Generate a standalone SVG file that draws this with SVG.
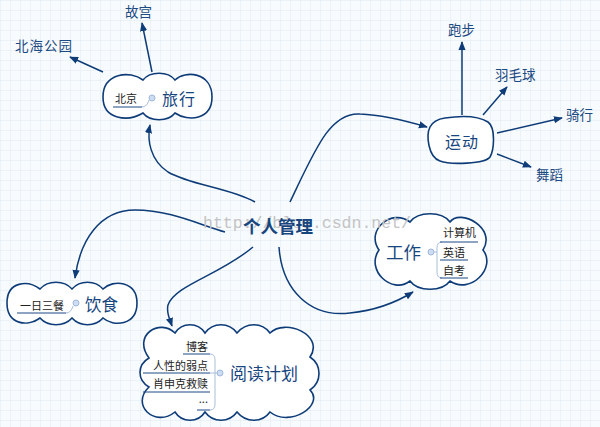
<svg xmlns="http://www.w3.org/2000/svg" width="600" height="427" viewBox="0 0 600 427">
<defs>
<pattern id="grid" width="10" height="10" patternUnits="userSpaceOnUse">
<rect width="10" height="10" fill="#f8fbfd"/>
<path d="M10,0 L0,0 L0,10" fill="none" stroke="#dfeaf3" stroke-width="1"/>
</pattern>
<marker id="arr" viewBox="0 0 10 10" refX="9" refY="5" markerWidth="9" markerHeight="9" markerUnits="userSpaceOnUse" orient="auto">
<path d="M0,1 L10,5 L0,9 z" fill="#0e3c78"/>
</marker>
<style>
.conn{fill:none;stroke:#0e3c78;stroke-width:1.5}
.shape{fill:#ffffff;stroke:#0e3c78;stroke-width:1.6}
.main{font-family:"Noto Sans CJK SC","Noto Sans",sans-serif;fill:#17467f}
.lbl{font-family:"Noto Sans CJK SC","Noto Sans",sans-serif;fill:#1c4a82;font-size:13.5px}
.sub{font-family:"Noto Sans CJK SC","Noto Sans",sans-serif;fill:#222;font-size:11px}
.ul{fill:none;stroke:#1a4a84;stroke-width:1}
.br{fill:none;stroke:#a9bfd9;stroke-width:1}
.dot{fill:#cddcf0;stroke:#9db8dc;stroke-width:1}
.wm{font-family:"Liberation Mono",monospace;font-size:16.5px;fill:#c4c4c4}
</style>
</defs>
<rect width="600" height="427" fill="url(#grid)"/>

<g id="connectors">
<path class="conn" d="M255,202 C230,188 190,185 168,172 C150,160 147,140 150,125" marker-end="url(#arr)"/>
<path class="conn" d="M290,202 C315,150 330,112 360,114 C385,115 410,122 427,127" marker-end="url(#arr)"/>
<path class="conn" d="M279,247 C282,290 310,318 350,313 C380,310 400,300 413,292" marker-end="url(#arr)"/>
<path class="conn" d="M253,247 C220,275 175,285 168,305 C166,313 170,320 172,326" marker-end="url(#arr)"/>
<path class="conn" d="M225,232 C200,225 170,210 135,210 C100,210 80,240 75,278" marker-end="url(#arr)"/>
<path class="conn" d="M152,72 L142,23" marker-end="url(#arr)"/>
<path class="conn" d="M103,72 L70,57" marker-end="url(#arr)"/>
<path class="conn" d="M462,115 L462,42" marker-end="url(#arr)"/>
<path class="conn" d="M483,115 L507,87" marker-end="url(#arr)"/>
<path class="conn" d="M497,133 L562,118" marker-end="url(#arr)"/>
<path class="conn" d="M497,154 L531,167" marker-end="url(#arr)"/>
</g>

<g id="node-lvxing">
<path class="shape" d="M143,80 C150,71 168,71 175,80 C185,70 212,72 212,97 C212,120 188,122 175,113 C168,122 150,122 143,113 C128,122 103,120 103,97 C103,73 130,70 143,80 Z"/>
<text class="sub" x="115" y="103" font-size="12">北京</text>
<path class="ul" d="M113,107 L142,107"/>
<path class="br" d="M142,107 Q147,107 149,100"/>
<circle class="dot" cx="152" cy="98" r="3"/>
<text class="main" x="162" y="105" font-size="16" letter-spacing="1">旅行</text>
</g>

<g id="node-gugong"><text class="lbl" x="125" y="17">故宫</text></g>
<g id="node-beihai"><text class="lbl" x="15" y="51" letter-spacing="1">北海公园</text></g>

<g id="node-yundong">
<path class="shape" d="M445,118 C465,115 480,117 488,122 C496,128 494,150 490,157 C485,164 450,165 440,161 C428,157 426,135 430,127 C433,121 438,119 445,118 Z"/>
<text class="main" x="445" y="148" font-size="16" letter-spacing="1">运动</text>
</g>
<g id="node-paobu"><text class="lbl" x="448" y="35" font-size="14">跑步</text></g>
<g id="node-yumaoqiu"><text class="lbl" x="495" y="80" font-size="14">羽毛球</text></g>
<g id="node-qixing"><text class="lbl" x="566" y="120" font-size="13.5">骑行</text></g>
<g id="node-wudao"><text class="lbl" x="536" y="180" font-size="13.5">舞蹈</text></g>

<g id="node-yinshi">
<path class="shape" d="M40,289 C48,280 64,280 72,289 C80,280 95,280 103,289 C113,279 137,281 137,303 C137,326 113,327 103,318 C95,327 80,327 72,318 C64,327 48,327 40,318 C28,327 7,325 7,303 C7,281 28,280 40,289 Z"/>
<text class="sub" x="20" y="310">一日三餐</text>
<path class="ul" d="M17,313 L66,313"/>
<path class="br" d="M66,313 Q71,313 73,306"/>
<circle class="dot" cx="76" cy="303" r="3"/>
<text class="main" x="85" y="311" font-size="16.5">饮食</text>
</g>

<g id="node-yuedu">
<path class="shape" d="M175,333 C182,322 198,322 205,333 C213,322 229,322 237,333 C246,322 262,322 270,333 C285,318 325,335 310,357 C322,365 322,382 310,390 C325,405 290,428 270,412 C262,423 246,423 237,412 C229,423 213,423 205,412 C198,423 182,423 175,412 C155,428 130,405 149,387 C137,380 137,365 149,358 C132,335 160,318 175,333 Z"/>
<text class="sub" x="208" y="351" text-anchor="end">博客</text>
<text class="sub" x="208" y="370" text-anchor="end">人性的弱点</text>
<text class="sub" x="208" y="388" text-anchor="end">肖申克救赎</text>
<text class="sub" x="208" y="403" text-anchor="end">...</text>
<path class="ul" d="M183,354 L210,354 M143,373 L210,373 M143,392 L210,392 M197,410 L210,410"/>
<path class="br" d="M210,354 Q215,354 215,360 L215,404 Q215,410 210,410 M210,373 L217,373"/>
<circle class="dot" cx="220" cy="373" r="3"/>
<text class="main" x="230" y="380" font-size="17">阅读计划</text>
</g>

<g id="node-gongzuo">
<path class="shape" d="M410,222 C418,211 442,211 450,222 C460,208 497,228 483,250 C497,268 470,295 450,281 C442,292 418,292 410,281 C392,295 365,270 379,250 C365,230 392,208 410,222 Z"/>
<text class="main" x="386" y="259" font-size="17.5">工作</text>
<circle class="dot" cx="431" cy="252" r="3"/>
<path class="br" d="M434,252 L437,252 M442,242 Q437,242 437,248 L437,272 Q437,278 442,278"/>
<text class="sub" x="443" y="237">计算机</text>
<text class="sub" x="443" y="257">英语</text>
<text class="sub" x="443" y="275">自考</text>
<path class="ul" d="M440,242 L478,242 M440,260 L468,260 M440,278 L468,278"/>
</g>

<text class="wm" x="203" y="228">http://blog.csdn.net/</text>

<g id="node-center">
<text class="main" x="243" y="233" font-size="17.5" font-weight="bold" fill="#0f3d78">个人管理</text>
</g>
</svg>
